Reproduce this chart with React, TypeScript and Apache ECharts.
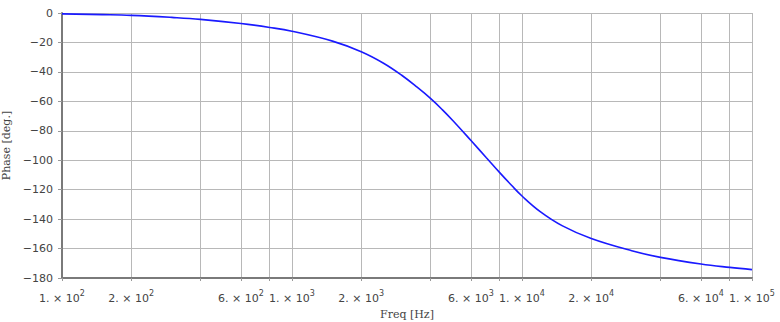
import React, { useEffect, useRef } from "react";
import * as echarts from "echarts";

const freqs = [100, 150, 200, 300, 400, 600, 800, 1000, 1500, 2000, 2500, 3000, 3500, 4000, 4500, 5000, 6000, 7000, 8000, 9000, 10000, 12000, 15000, 20000, 30000, 40000, 60000, 80000, 100000];
const phase = [-0.6, -1.1, -1.6, -3.0, -4.3, -7.1, -9.8, -12.4, -19.1, -26.3, -34.1, -42.3, -50.4, -58.0, -65.6, -73.0, -86.6, -98.3, -108.4, -117.0, -124.3, -134.9, -144.6, -153.2, -161.5, -166.0, -170.5, -172.8, -174.3];
const gridFreqs = [100, 200, 400, 600, 800, 1000, 2000, 4000, 6000, 8000, 10000, 20000, 40000, 60000, 80000, 100000];
const labelFreqs = [100, 200, 600, 1000, 2000, 6000, 10000, 20000, 60000, 100000];

export default function App() {
  const ref = useRef<HTMLDivElement>(null);
  useEffect(() => {
    if (!ref.current) return;
    const chart = echarts.init(ref.current, null, { renderer: "svg" });
    const data = freqs.map((f, i) => [Math.log10(f), phase[i]]);
    chart.setOption({
      animation: false,
      backgroundColor: "#ffffff",
      grid: { left: 62, right: 28, top: 13, bottom: 44, containLabel: false, outerBoundsMode: "none" },
      xAxis: {
        type: "value",
        min: 2,
        max: 5,
        name: "Freq [Hz]",
        nameLocation: "middle",
        nameGap: 28,
        nameTextStyle: { fontFamily: "DejaVu Serif", fontSize: 11, color: "#444" },
        axisLine: { show: true, onZero: false, lineStyle: { color: "#7a7a7a", width: 2 } },
        axisTick: { show: true, length: 3, customValues: gridFreqs.map((f) => Math.log10(f)), lineStyle: { color: "#999" } },
        splitLine: { show: true, lineStyle: { color: "#b8b8b8", width: 1 } },
        axisLabel: {
          customValues: labelFreqs.map((f) => Math.log10(f)),
          margin: 13,
          formatter: (v: number) => {
            const f = Math.round(Math.pow(10, v));
            const e = Math.floor(Math.log10(f) + 1e-9);
            const m = Math.round(f / Math.pow(10, e));
            return `{m|${m}. × 10}{e|${e}}`;
          },
          rich: {
            m: { fontFamily: "DejaVu Sans", fontSize: 11, color: "#444", verticalAlign: "bottom", lineHeight: 13 },
            e: { fontFamily: "DejaVu Sans", fontSize: 8, color: "#444", verticalAlign: "bottom", lineHeight: 8, padding: [0, 0, 7, 0] },
          },
        },
      },
      yAxis: {
        type: "value",
        min: -180,
        max: 0,
        interval: 20,
        name: "Phase [deg.]",
        nameLocation: "middle",
        nameGap: 44,
        nameRotate: 90,
        nameTextStyle: { fontFamily: "DejaVu Serif", fontSize: 11, color: "#444" },
        axisLine: { show: true, lineStyle: { color: "#7a7a7a", width: 2 } },
        axisTick: { show: true, length: 4, lineStyle: { color: "#999" } },
        splitLine: { show: true, lineStyle: { color: "#b8b8b8", width: 1 } },
        axisLabel: {
          margin: 9,
          fontFamily: "DejaVu Sans",
          fontSize: 11,
          color: "#444",
          formatter: (v: number) => String(v).replace("-", "\u2212"),
        },
      },
      series: [
        {
          type: "line",
          data,
          smooth: 0.4,
          showSymbol: false,
          lineStyle: { color: "#1a1aff", width: 1.6 },
        },
      ],
    });
    return () => chart.dispose();
  }, []);
  return <div ref={ref} style={{ position: "fixed", left: 0, top: 0, width: 780, height: 322 }} />;
}
